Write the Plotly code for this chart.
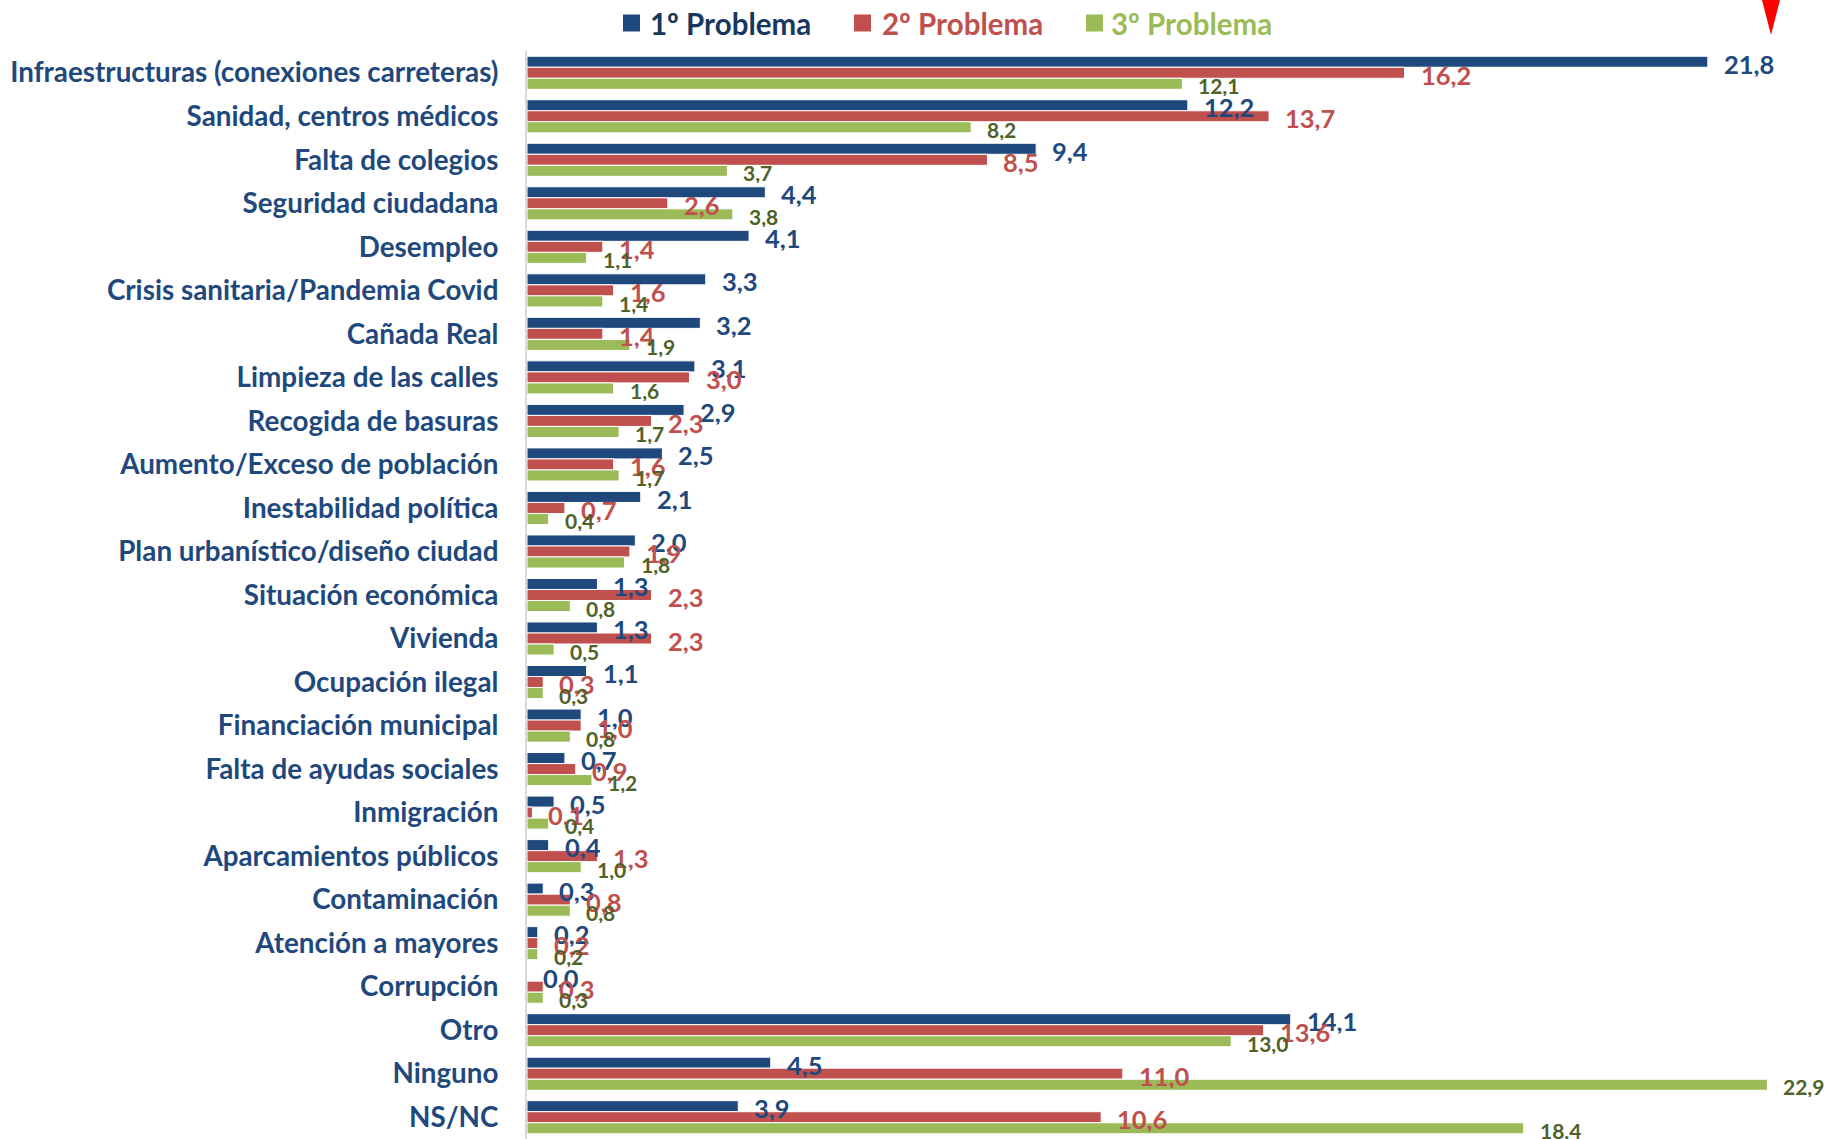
import plotly.graph_objects as go

categories = [
    "Infraestructuras (conexiones carreteras)", "Sanidad, centros médicos", "Falta de colegios",
    "Seguridad ciudadana", "Desempleo", "Crisis sanitaria/Pandemia Covid", "Cañada Real",
    "Limpieza de las calles", "Recogida de basuras", "Aumento/Exceso de población",
    "Inestabilidad política", "Plan urbanístico/diseño ciudad", "Situación económica",
    "Vivienda", "Ocupación ilegal", "Financiación municipal", "Falta de ayudas sociales",
    "Inmigración", "Aparcamientos públicos", "Contaminación", "Atención a mayores",
    "Corrupción", "Otro", "Ninguno", "NS/NC",
]
problema1 = [21.8, 12.2, 9.4, 4.4, 4.1, 3.3, 3.2, 3.1, 2.9, 2.5, 2.1, 2.0, 1.3, 1.3, 1.1, 1.0,
             0.7, 0.5, 0.4, 0.3, 0.2, 0.0, 14.1, 4.5, 3.9]
problema2 = [16.2, 13.7, 8.5, 2.6, 1.4, 1.6, 1.4, 3.0, 2.3, 1.6, 0.7, 1.9, 2.3, 2.3, 0.3, 1.0,
             0.9, 0.1, 1.3, 0.8, 0.2, 0.3, 13.6, 11.0, 10.6]
problema3 = [12.1, 8.2, 3.7, 3.8, 1.1, 1.4, 1.9, 1.6, 1.7, 1.7, 0.4, 1.8, 0.8, 0.5, 0.3, 0.8,
             1.2, 0.4, 1.0, 0.8, 0.2, 0.3, 13.0, 22.9, 18.4]
series_names = ["1º Problema", "2º Problema", "3º Problema"]

FONT = "Lato, Roboto, sans-serif"
bar_colors = ["#1F497D", "#C0504D", "#9BBB59"]
legend_text_colors = ["#17375E", "#C0504D", "#9BBB59"]
label_colors = ["#1F497D", "#C0504D", "#4F6228"]
label_sizes = [25.5, 25.5, 21]

W, H = 1827, 1139
ML, MR, MT, MB = 527, 0, 51, 0
BARGAP = 0.24
plot_w = W - ML - MR
plot_h = H - MT - MB
cat_px = plot_h / len(categories)
bar_px = (1 - BARGAP) / 3 * cat_px

fig = go.Figure()
all_series = [problema1, problema2, problema3]
for i, vals in enumerate(all_series):
    fig.add_trace(go.Bar(
        y=categories, x=vals, orientation="h", name=series_names[i],
        marker=dict(color=bar_colors[i], line=dict(color="white", width=1)),
        hoverinfo="x+y", showlegend=False,
    ))

annotations = []
for i, vals in enumerate(all_series):
    for c, v in zip(categories, vals):
        annotations.append(dict(
            x=v, y=c, xref="x", yref="y", text=f"{v:.1f}".replace(".", ","),
            showarrow=False, xanchor="left", yanchor="middle",
            xshift=14, yshift=(1 - i) * bar_px - 2,
            height=label_sizes[i],
            font=dict(family=FONT, size=label_sizes[i], color=label_colors[i], weight="bold"),
        ))

# page pixel -> paper coordinates
def px_x(px):
    return (px - ML) / plot_w

def px_y(py):
    return 1 - (py - MT) / plot_h

legend_key_left = [623, 854, 1086]
legend_text_left = [648, 880, 1109]
legend_cy = 23
key_half = 8.5
shapes = []
for i in range(3):
    shapes.append(dict(type="rect", xref="paper", yref="paper",
                       x0=px_x(legend_key_left[i]), x1=px_x(legend_key_left[i] + 2 * key_half),
                       y0=px_y(legend_cy + key_half), y1=px_y(legend_cy - key_half),
                       fillcolor=bar_colors[i], line=dict(width=0)))
    annotations.append(dict(x=px_x(legend_text_left[i]), y=px_y(legend_cy), xref="paper", yref="paper",
                            text=series_names[i], showarrow=False, xanchor="left", yanchor="middle",
                            height=28,
                            font=dict(family=FONT, size=29.5, color=legend_text_colors[i], weight="bold")))

# red marker triangle at the top right
shapes.append(dict(type="path", xref="paper", yref="paper",
                   path=f"M {px_x(1762)} {px_y(0)} L {px_x(1780)} {px_y(0)} L {px_x(1771)} {px_y(35)} Z",
                   fillcolor="#FF0000", line=dict(width=0)))

fig.update_layout(
    width=W, height=H,
    margin=dict(l=ML, r=MR, t=MT, b=MB, autoexpand=False),
    paper_bgcolor="white", plot_bgcolor="white",
    barmode="group", bargap=BARGAP, bargroupgap=0,
    font=dict(family=FONT),
    showlegend=False,
    annotations=annotations,
    shapes=shapes,
)
fig.update_xaxes(range=[0, 24.0], showgrid=False, zeroline=False, showticklabels=False,
                 showline=False, fixedrange=True)
fig.update_yaxes(range=[len(categories) - 0.5, -0.5], showgrid=False, zeroline=False, showline=True,
                 linecolor="#D9D9D9", linewidth=2, ticks="", ticklabelstandoff=21,
                 tickfont=dict(family=FONT, size=27.8, color="#1F497D", weight="bold"),
                 automargin=False)

# remove the default page margin so the figure fills the browser window exactly
fig.write_html("out.html", config={"displayModeBar": False},
               post_script="document.body.style.margin='0';document.body.style.overflow='hidden';")
